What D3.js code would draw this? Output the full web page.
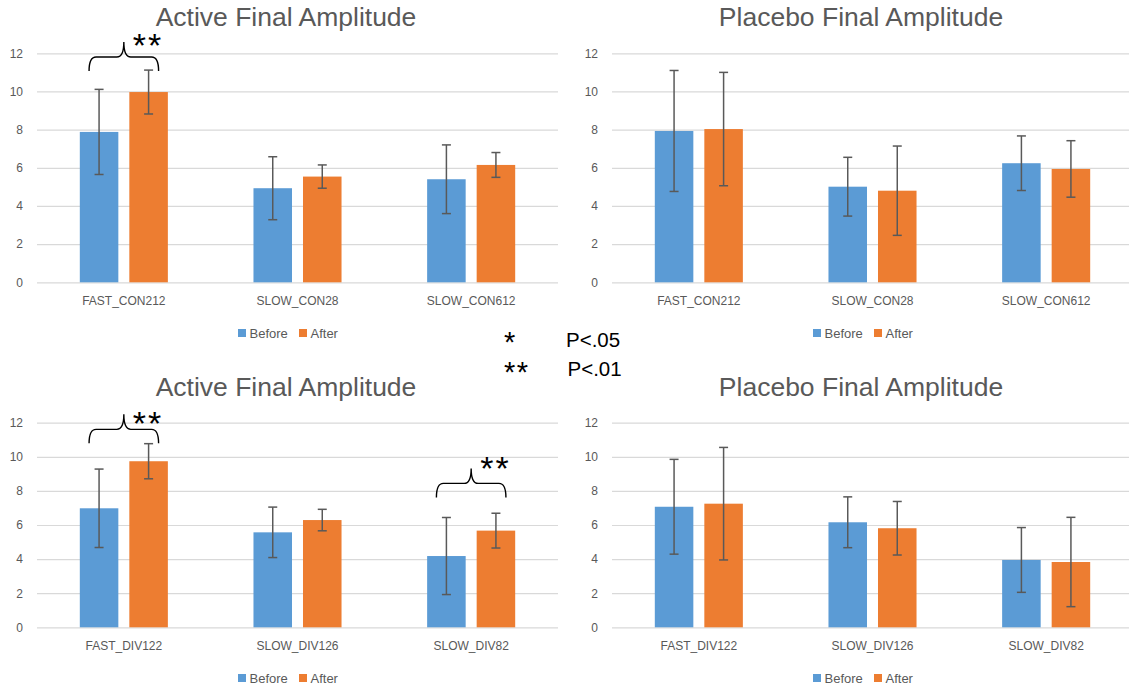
<!DOCTYPE html>
<html>
<head>
<meta charset="utf-8">
<script src="https://cdn.jsdelivr.net/npm/d3@7"></script>
<style>
  body { margin: 0; background: #fff; }
  svg { display: block; }
  text { font-family: "Liberation Sans", Arial, sans-serif; }
</style>
</head>
<body>
<svg id="chart" width="1129" height="690"></svg>
<script>
// ---- data ----
const seriesNames = ["Before", "After"];
const seriesColors = ["#5B9BD5", "#ED7D31"];
const conCategories = ["FAST_CON212", "SLOW_CON28", "SLOW_CON612"];
const divCategories = ["FAST_DIV122", "SLOW_DIV126", "SLOW_DIV82"];
const yTicks = [0, 2, 4, 6, 8, 10, 12];

const activeConBefore    = [7.88, 4.93, 5.40];
const activeConBeforeErr = [2.23, 1.65, 1.80];
const activeConAfter     = [9.97, 5.54, 6.15];
const activeConAfterErr  = [1.15, 0.61, 0.65];

const placeboConBefore    = [7.93, 5.01, 6.24];
const placeboConBeforeErr = [3.17, 1.54, 1.43];
const placeboConAfter     = [8.03, 4.80, 5.94];
const placeboConAfterErr  = [2.97, 2.34, 1.48];

const activeDivBefore    = [6.98, 5.57, 4.18];
const activeDivBeforeErr = [2.30, 1.48, 2.26];
const activeDivAfter     = [9.74, 6.29, 5.67];
const activeDivAfterErr  = [1.03, 0.63, 1.02];

const placeboDivBefore    = [7.07, 6.16, 3.95];
const placeboDivBeforeErr = [2.78, 1.49, 1.90];
const placeboDivAfter     = [7.25, 5.81, 3.83];
const placeboDivAfterErr  = [3.30, 1.57, 2.62];

// significance brackets: category, bracket foot level, star level (axis units)
const activeConSig = [{ category: "FAST_CON212", foot: 11.07, star: 13.07, mark: "**" }];
const activeDivSig = [
  { category: "FAST_DIV122", foot: 10.79, star: 12.70, mark: "**" },
  { category: "SLOW_DIV82",  foot: 7.62,  star: 10.10, mark: "**" }
];

const keyMarks  = ["*", "**"];
const keyLabels = ["P<.05", "P<.01"];

// ---- layout ----
const svg = d3.select("#chart");
const panels = [
  { title: "Active Final Amplitude",  cats: conCategories, before: activeConBefore,  beforeErr: activeConBeforeErr,  after: activeConAfter,  afterErr: activeConAfterErr,  sig: activeConSig,
    left: 0,   plotTop: 53.3,  plotBottom: 282.3, titleY: 26,  legendY: 333 },
  { title: "Placebo Final Amplitude", cats: conCategories, before: placeboConBefore, beforeErr: placeboConBeforeErr, after: placeboConAfter, afterErr: placeboConAfterErr, sig: [],
    left: 575, plotTop: 53.3,  plotBottom: 282.3, titleY: 26,  legendY: 333 },
  { title: "Active Final Amplitude",  cats: divCategories, before: activeDivBefore,  beforeErr: activeDivBeforeErr,  after: activeDivAfter,  afterErr: activeDivAfterErr,  sig: activeDivSig,
    left: 0,   plotTop: 422.7, plotBottom: 627.3, titleY: 396, legendY: 678 },
  { title: "Placebo Final Amplitude", cats: divCategories, before: placeboDivBefore, beforeErr: placeboDivBeforeErr, after: placeboDivAfter, afterErr: placeboDivAfterErr, sig: [],
    left: 575, plotTop: 422.7, plotBottom: 627.3, titleY: 396, legendY: 678 }
];

const plotX0 = 37, plotW = 521, panelCenter = 286;
const textGray = "#595959", gridGray = "#d9d9d9";

panels.forEach(p => {
  const g = svg.append("g").attr("transform", `translate(${p.left},0)`);

  const x = d3.scaleBand().domain(p.cats).range([plotX0, plotX0 + plotW])
    .paddingInner(0.493).paddingOuter(0.2465);
  const xs = d3.scaleBand().domain(seriesNames).range([0, x.bandwidth()])
    .paddingInner(0.222).paddingOuter(0);
  const y = d3.scaleLinear().domain([0, 12]).range([p.plotBottom, p.plotTop]);

  // title
  g.append("text").attr("x", panelCenter).attr("y", p.titleY)
    .attr("text-anchor", "middle").attr("fill", textGray)
    .attr("font-size", 26.5).text(p.title);

  // gridlines + y labels
  const ya = g.append("g").attr("transform", `translate(${plotX0},0)`)
    .call(d3.axisLeft(y).tickValues(yTicks).tickSize(-plotW).tickPadding(14));
  ya.select(".domain").remove();
  ya.selectAll("line").attr("stroke", gridGray).attr("stroke-width", 1.2);
  ya.selectAll("text").attr("fill", textGray).attr("font-size", 12)
    .attr("font-family", "Liberation Sans, Arial, sans-serif");

  // x labels
  const xa = g.append("g").attr("transform", `translate(0,${p.plotBottom})`)
    .call(d3.axisBottom(x).tickSize(0).tickPadding(14));
  xa.select(".domain").remove();
  xa.selectAll("text").attr("fill", textGray).attr("font-size", 12)
    .attr("font-family", "Liberation Sans, Arial, sans-serif");

  // bars
  const rows = p.cats.map((c, i) => ({
    cat: c,
    vals: [
      { s: seriesNames[0], v: p.before[i], e: p.beforeErr[i] },
      { s: seriesNames[1], v: p.after[i],  e: p.afterErr[i] }
    ]
  }));
  const grp = g.selectAll(".grp").data(rows).join("g")
    .attr("transform", d => `translate(${x(d.cat)},0)`);
  grp.selectAll("rect").data(d => d.vals).join("rect")
    .attr("x", d => xs(d.s)).attr("width", xs.bandwidth())
    .attr("y", d => y(d.v)).attr("height", d => y(0) - y(d.v))
    .attr("fill", (d, i) => seriesColors[i]);

  // error bars
  const eb = grp.selectAll(".eb").data(d => d.vals).join("g")
    .attr("transform", d => `translate(${xs(d.s) + xs.bandwidth() / 2},0)`)
    .attr("stroke", textGray).attr("stroke-width", 1.5);
  eb.append("line").attr("y1", d => y(d.v - d.e)).attr("y2", d => y(d.v + d.e));
  eb.append("line").attr("x1", -4.5).attr("x2", 4.5)
    .attr("y1", d => y(d.v + d.e)).attr("y2", d => y(d.v + d.e));
  eb.append("line").attr("x1", -4.5).attr("x2", 4.5)
    .attr("y1", d => y(d.v - d.e)).attr("y2", d => y(d.v - d.e));

  // significance braces
  p.sig.forEach(s => {
    const x1 = x(s.category) + xs(seriesNames[0]) + xs.bandwidth() / 2 - 10;
    const x2 = x(s.category) + xs(seriesNames[1]) + xs.bandwidth() / 2 + 10;
    const xc = (x1 + x2) / 2;
    const yEnd = y(s.foot), yH = yEnd - 14, yTip = yH - 15, r = 7;
    const path = d3.path();
    path.moveTo(x1, yEnd);
    path.quadraticCurveTo(x1, yH, x1 + r, yH);
    path.lineTo(xc - r, yH);
    path.quadraticCurveTo(xc, yH, xc, yTip);
    path.quadraticCurveTo(xc, yH, xc + r, yH);
    path.lineTo(x2 - r, yH);
    path.quadraticCurveTo(x2, yH, x2, yEnd);
    g.append("path").attr("d", path.toString())
      .attr("fill", "none").attr("stroke", "#000").attr("stroke-width", 1.4);
    g.append("text").attr("x", xc + 9).attr("y", y(s.star) + 0.72 * 34)
      .attr("font-size", 34).attr("letter-spacing", 2).attr("fill", "#000")
      .text(s.mark);
  });

  // legend
  const lg = g.append("g").attr("transform", `translate(${panelCenter},${p.legendY})`);
  const legendOffsets = [-48, 13];
  seriesNames.forEach((n, i) => {
    lg.append("rect").attr("x", legendOffsets[i]).attr("y", -4).attr("width", 8).attr("height", 8)
      .attr("fill", seriesColors[i]);
    lg.append("text").attr("x", legendOffsets[i] + 11.5).attr("y", 4.5)
      .attr("font-size", 13).attr("fill", textGray).text(n);
  });
});

// significance key
const key = svg.append("g");
keyMarks.forEach((m, i) => {
  key.append("text").attr("x", 504).attr("y", 352 + i * 30)
    .attr("font-size", 29).attr("letter-spacing", 1.5).attr("fill", "#000").text(m);
  key.append("text").attr("x", 566 + i * 1.5).attr("y", 347 + i * 28.5)
    .attr("font-size", 20.5).attr("fill", "#000").text(keyLabels[i]);
});
</script>
</body>
</html>
